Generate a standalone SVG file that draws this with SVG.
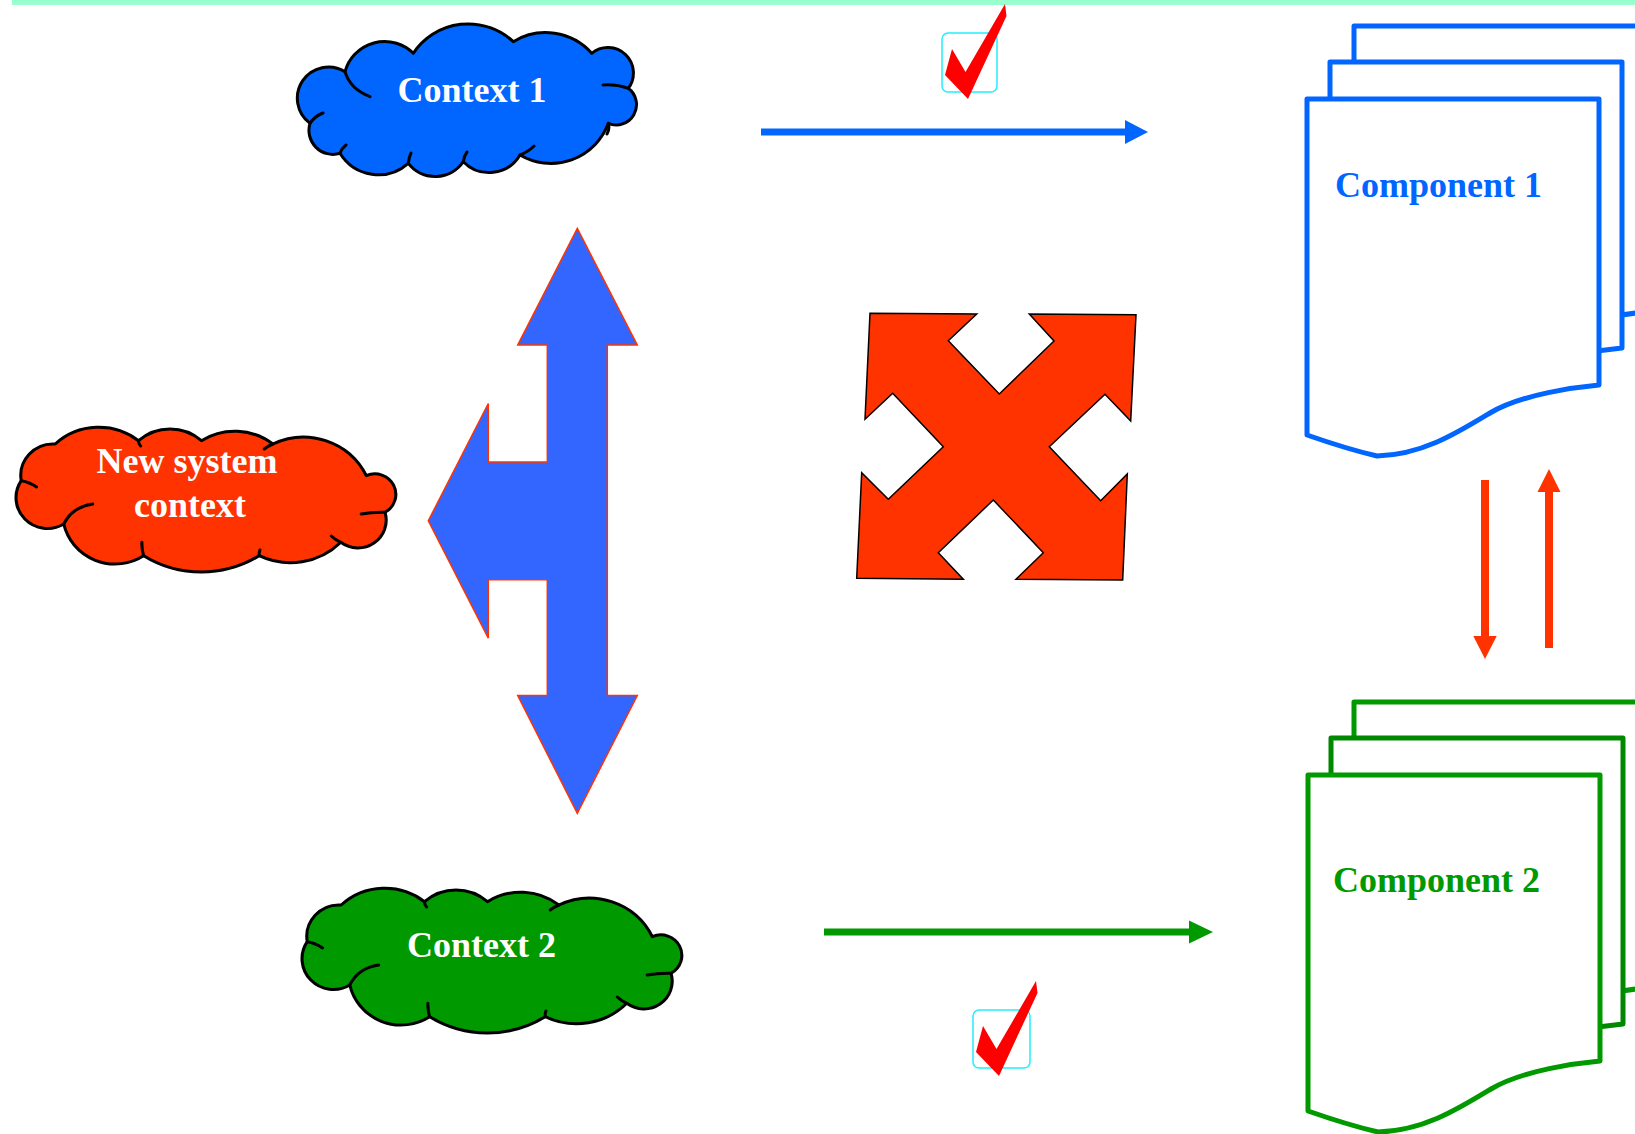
<svg xmlns="http://www.w3.org/2000/svg" xmlns:xlink="http://www.w3.org/1999/xlink" width="1635" height="1134" viewBox="0 0 1635 1134">
<style>
.cloud{stroke:#000;stroke-width:3;stroke-linejoin:round;stroke-linecap:round}
.inner{fill:none;stroke:#000;stroke-width:3;stroke-linecap:round}
.lbl{font-family:"Liberation Serif","Times New Roman",serif;font-weight:bold;font-size:36px}
.white{fill:#fff;text-anchor:middle}
.page{fill:#fff;stroke-width:5;stroke-linejoin:round}
.box{fill:none;stroke:#22eeff;stroke-width:1.5}
.tick{fill:#ff0000}
</style>
<defs>
<path id="cloudA" d="M47,47.7 A41,41 0 0 1 115.3,29.3 A66,66 0 0 1 215.3,17.7 A62,62 0 0 1 293.7,29.3 A25.5,25.5 0 0 1 330.3,64.3 A20.3,20.3 0 0 1 310.3,99.3 A61,61 0 0 1 222,131 A36,36 0 0 1 165.3,137.7 A34,34 0 0 1 110.3,139.3 A45,45 0 0 1 42,129.3 A24,24 0 0 1 12,99.3 A31.2,31.2 0 0 1 47,47.7 Z"/>
<path id="cloudAInner" d="M47,47.7 Q52,65 72,72.7 M12,99.3 Q17,92 25,89 M330.3,64.3 Q318,60 305,61 M310.3,99.3 Q312,105 309,110 M222,131 Q230,128 236,122 M165.3,137.7 Q166,132 169,128 M110.3,139.3 Q111,133 113,129 M42,129.3 Q44,124 48,121"/>
<path id="cloudB" d="M12,53.7 A31.6,31.6 0 0 1 45.3,17 A63,63 0 0 1 127,13.7 A46.5,46.5 0 0 1 188.7,13.7 A61,61 0 0 1 258.7,17 A68.7,68.7 0 0 1 350.3,48.7 A20.5,20.5 0 0 1 368.7,85.3 A27.8,27.8 0 0 1 325.3,115.3 A69.7,69.7 0 0 1 245.3,128.7 A106.6,106.6 0 0 1 132,128.7 A51.5,51.5 0 0 1 53.7,97 A30.8,30.8 0 0 1 12,53.7 Z"/>
<path id="cloudBInner" d="M12,53.7 Q20,55 27,60 M53.7,97 Q62,80 82,77 M127,13.7 Q127,17 129,19 M258.7,17 Q254,19 250.3,22 M368.7,85.3 Q356,85 345.3,87 M325.3,115.3 Q320,113 316,109 M245.3,128.7 Q245,126 246,123 M132,128.7 Q130,122 130.3,115.3"/>
<path id="pageShape" d="M0,0 H292 V286 C270,288 215,295 183,314 C150,334 115,356 70,357 Q40,350 0,336 Z"/>
<polygon id="check" points="1005,4 1006.5,16 968,99 945,75 952,49 965.5,72"/>
</defs>

<rect x="12" y="0" width="1623" height="5" fill="#99ffcc"/>

<g id="context1">
<g transform="translate(298,24)">
<use xlink:href="#cloudA" class="cloud" fill="#0066ff"/>
<use xlink:href="#cloudAInner" class="inner"/>
</g>
<text class="lbl white" x="472" y="102">Context 1</text>
</g>

<g id="newSystemContext">
<g transform="translate(9,427) scale(1.02,1)">
<use xlink:href="#cloudB" class="cloud" fill="#ff3300"/>
<use xlink:href="#cloudBInner" class="inner"/>
</g>
<text class="lbl white" x="187" y="473">New system</text>
<text class="lbl white" x="190" y="517">context</text>
</g>

<g id="context2">
<g transform="translate(295,888) scale(1.02,1)">
<use xlink:href="#cloudB" class="cloud" fill="#009900"/>
<use xlink:href="#cloudBInner" class="inner"/>
</g>
<text class="lbl white" x="481.5" y="957">Context 2</text>
</g>

<g id="component1">
<use xlink:href="#pageShape" x="1354" y="26" class="page" stroke="#0066ff"/>
<use xlink:href="#pageShape" x="1330" y="62" class="page" stroke="#0066ff"/>
<use xlink:href="#pageShape" x="1307" y="99" class="page" stroke="#0066ff"/>
<text class="lbl" x="1335" y="197" fill="#0066ff">Component 1</text>
</g>

<g id="component2">
<use xlink:href="#pageShape" x="1354" y="702" class="page" stroke="#009900"/>
<use xlink:href="#pageShape" x="1331" y="738" class="page" stroke="#008800"/>
<use xlink:href="#pageShape" x="1308" y="775" class="page" stroke="#009900"/>
<text class="lbl" x="1333" y="892" fill="#009900">Component 2</text>
</g>

<g id="splitArrow">
<polygon points="577.3,228.4 637.3,345.1 607.3,345.1 607.3,695.5 637.3,695.5 577.3,813.3 517.7,695.5 547.3,695.5 547.3,579.7 488.3,579.7 488.3,638.1 428.3,520.8 488.3,403.5 488.3,461.9 547.3,461.9 547.3,345.1 517.7,345.1" fill="#3366ff" stroke="#ff3300" stroke-width="1.5" stroke-linejoin="miter"/>
</g>

<g id="crossArrows">
<polygon points="870,313.3 976.7,314 948.3,340.7 999.3,394 1054,341 1029.3,314 1136,314.7 1130.7,421 1105,394.3 1049.3,446.7 1100.7,500.7 1127.3,474 1122.7,580 1016,579.3 1043.3,552.7 993.3,500 938.3,552.7 963.3,579.3 856.7,578.3 861.7,472.7 888.3,499.3 943.3,446.7 892.7,393.3 865,419.3" fill="#ff3300" stroke="#000" stroke-width="1.5" stroke-linejoin="miter"/>
</g>

<g id="check1">
<rect class="box" x="942" y="33" width="55" height="59" rx="6"/>
<use xlink:href="#check" class="tick"/>
</g>

<g id="check2">
<rect class="box" x="973" y="1010" width="57" height="58" rx="6"/>
<use xlink:href="#check" class="tick" transform="translate(31,977)"/>
</g>

<g id="connectors">
<line x1="761" y1="132" x2="1126" y2="132" stroke="#0066ff" stroke-width="7"/>
<polygon points="1125,120 1148,132 1125,144" fill="#0066ff"/>
<line x1="824" y1="932" x2="1190" y2="932" stroke="#009900" stroke-width="7"/>
<polygon points="1189,920.5 1213,932 1189,943.5" fill="#009900"/>
<line x1="1485" y1="480" x2="1485" y2="637" stroke="#ff3300" stroke-width="8"/>
<polygon points="1473.3,636 1496.7,636 1485,659" fill="#ff3300"/>
<line x1="1549" y1="648" x2="1549" y2="491" stroke="#ff3300" stroke-width="8"/>
<polygon points="1537.5,492 1560.5,492 1549,469" fill="#ff3300"/>
</g>
</svg>
